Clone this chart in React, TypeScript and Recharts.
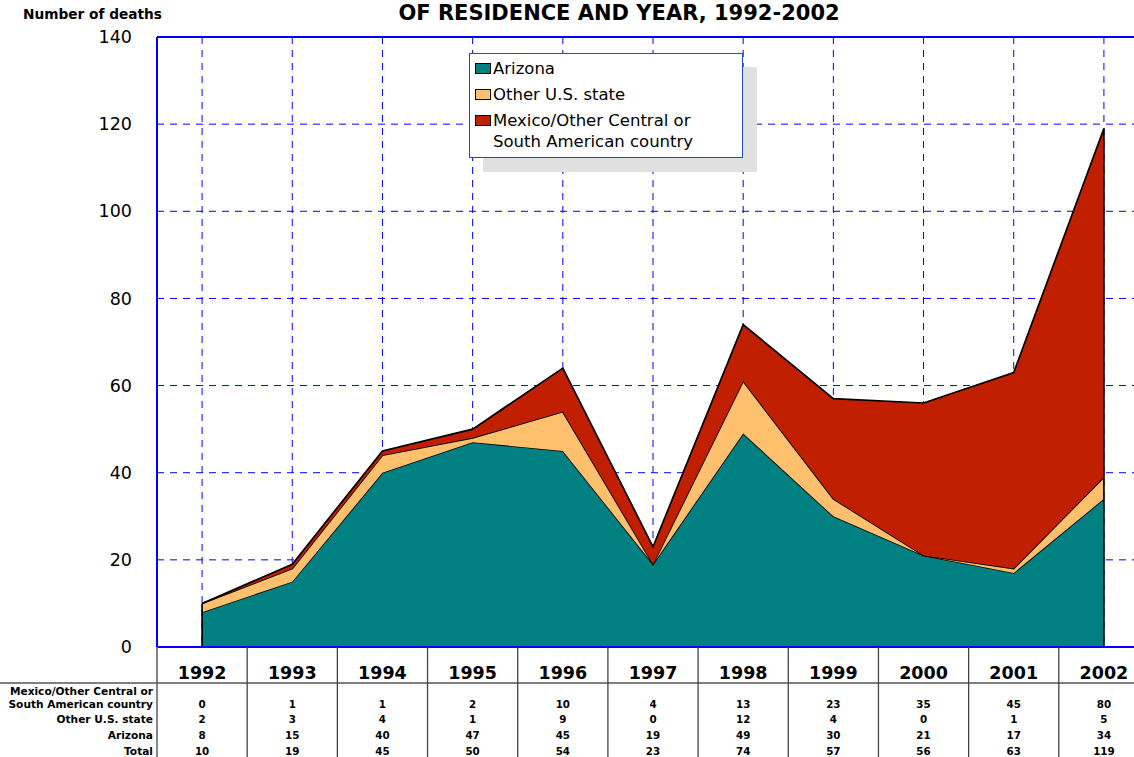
import {
  ComposedChart,
  Area,
  XAxis,
  YAxis,
  CartesianGrid,
  Legend,
  ReferenceLine,
} from "recharts";

const years = ["1992", "1993", "1994", "1995", "1996", "1997", "1998", "1999", "2000", "2001", "2002"];
const arizona = [8, 15, 40, 47, 45, 19, 49, 30, 21, 17, 34];
const otherState = [2, 3, 4, 1, 9, 0, 12, 4, 0, 1, 5];
const mexico = [0, 1, 1, 2, 10, 4, 13, 23, 35, 45, 80];
const totals = [10, 19, 45, 50, 54, 23, 74, 57, 56, 63, 119];
const yTicks = [0, 20, 40, 60, 80, 100, 120, 140];

const seriesNames = [
  "Arizona",
  "Other U.S. state",
  "Mexico/Other Central or\nSouth American country",
];
const seriesColors = ["#008080", "#ffc06e", "#c02000"];

const data = years.map((year, i) => ({
  year,
  arizona: arizona[i],
  otherState: otherState[i],
  mexico: mexico[i],
  stackTop: arizona[i] + otherState[i] + mexico[i],
}));

const W = 1160;
const H = 757;
const LEFT = 157;
const RIGHT = 11;
const BAND = (W - LEFT - RIGHT) / years.length;
const FONT = "'DejaVu Sans', Verdana, sans-serif";

// table rows under the axis, top to bottom
const tableRows = [
  { label: seriesNames[2], values: mexico },
  { label: seriesNames[1], values: otherState },
  { label: seriesNames[0], values: arizona },
  { label: "Total", values: totals },
];

function TableTick(props: any) {
  const { x, y, payload, index } = props;
  const half = BAND / 2;
  const rowY = [704, 719, 735, 751].map((v) => v - 647 + y);
  return (
    <g>
      <line x1={x - half} x2={x - half} y1={y} y2={H} stroke="#444" strokeWidth={1.3} />
      {index === years.length - 1 && (
        <line x1={x + half} x2={x + half} y1={y} y2={H} stroke="#444" strokeWidth={1.3} />
      )}
      <text
        x={x}
        y={y + 32}
        textAnchor="middle"
        fontFamily={FONT}
        fontWeight="bold"
        fontSize={17.5}
        fill="#000"
      >
        {payload.value}
      </text>
      {tableRows.map((row, r) => (
        <text
          key={r}
          x={x}
          y={rowY[r] + 4}
          textAnchor="middle"
          fontFamily={FONT}
          fontWeight="bold"
          fontSize={10.3}
          fill="#000"
        >
          {row.values[index]}
        </text>
      ))}
      {index === 0 && (
        <g>
          <line x1={0} x2={W} y1={y + 36} y2={y + 36} stroke="#555" strokeWidth={1.3} />
          {tableRows.map((row, r) => {
            const lines = row.label.split("\n");
            return lines.map((ln, k) => (
              <text
                key={r + "-" + k}
                x={x - half - 4}
                y={rowY[r] + 4 - (lines.length - 1 - k) * 13}
                textAnchor="end"
                fontFamily={FONT}
                fontWeight="bold"
                fontSize={10.6}
                fill="#000"
              >
                {ln}
              </text>
            ));
          })}
        </g>
      )}
    </g>
  );
}

function LegendBox(props: any) {
  const items = [...(props.payload || [])].sort(
    (a: any, b: any) => seriesNames.indexOf(a.value) - seriesNames.indexOf(b.value)
  );
  return (
    <div
      style={{
        background: "#fff",
        border: "1.5px solid #1f4fbf",
        boxShadow: "14px 14px 0 #e0e0e0",
        padding: "4px 6px 0 5px",
        fontFamily: FONT,
        fontSize: 16.5,
        color: "#000",
        textAlign: "left",
      }}
    >
      {items.map((entry: any, i: number) => {
        const idx = seriesNames.indexOf(entry.value);
        return (
          <div
            key={i}
            style={{ display: "flex", alignItems: "flex-start", marginBottom: 5, lineHeight: "21px" }}
          >
            <span
              style={{
                display: "inline-block",
                width: 16,
                height: 11,
                marginTop: 5,
                marginRight: 2,
                background: seriesColors[idx],
                border: "1.5px solid #000",
                boxSizing: "border-box",
                flexShrink: 0,
              }}
            />
            <span style={{ whiteSpace: "pre-line" }}>{entry.value}</span>
          </div>
        );
      })}
    </div>
  );
}

export default function App() {
  return (
    <div
      style={{
        position: "absolute",
        left: 0,
        top: 0,
        width: 1134,
        height: 757,
        overflow: "hidden",
        background: "#fff",
        fontFamily: FONT,
      }}
    >
      <div
        style={{
          position: "absolute",
          left: 23,
          top: 6,
          fontSize: 13.7,
          fontWeight: "bold",
          whiteSpace: "nowrap",
        }}
      >
        Number of deaths
      </div>
      <div
        style={{
          position: "absolute",
          left: 0,
          width: 1238,
          top: 1,
          textAlign: "center",
          fontSize: 21,
          fontWeight: "bold",
          whiteSpace: "nowrap",
        }}
      >
        OF RESIDENCE AND YEAR, 1992-2002
      </div>
      <ComposedChart
        width={W}
        height={H}
        data={data}
        margin={{ top: 37, right: RIGHT, bottom: 0, left: LEFT - 60 }}
      >
        <CartesianGrid stroke="#0000ff" strokeDasharray="7 6" strokeWidth={1} />
        <XAxis
          dataKey="year"
          height={110}
          padding={{ left: BAND / 2, right: BAND / 2 }}
          axisLine={{ stroke: "#0000ff", strokeWidth: 2 }}
          tickLine={false}
          tickSize={0}
          tickMargin={0}
          interval={0}
          tick={(p: any) => <TableTick {...p} />}
        />
        <YAxis
          width={60}
          domain={[0, 140]}
          ticks={yTicks}
          axisLine={{ stroke: "#0000ff", strokeWidth: 2 }}
          tickLine={false}
          tickSize={0}
          tickMargin={25}
          tick={{ fill: "#000", fontSize: 17.5, fontFamily: FONT }}
        />
        <ReferenceLine y={140} stroke="#0000ff" strokeWidth={2} />
        <Area
          type="linear"
          dataKey="arizona"
          name={seriesNames[0]}
          stackId="a"
          fill={seriesColors[0]}
          fillOpacity={1}
          stroke="#000"
          strokeWidth={1.7}
          isAnimationActive={false}
        />
        <Area
          type="linear"
          dataKey="otherState"
          name={seriesNames[1]}
          stackId="a"
          fill={seriesColors[1]}
          fillOpacity={1}
          stroke="#000"
          strokeWidth={1.7}
          isAnimationActive={false}
        />
        <Area
          type="linear"
          dataKey="mexico"
          name={seriesNames[2]}
          stackId="a"
          fill={seriesColors[2]}
          fillOpacity={1}
          stroke="#000"
          strokeWidth={1.7}
          isAnimationActive={false}
        />
        <ReferenceLine
          segment={[
            { x: years[0], y: 0 },
            { x: years[0], y: data[0].stackTop },
          ]}
          stroke="#000"
          strokeWidth={1.7}
        />
        <ReferenceLine
          segment={[
            { x: years[years.length - 1], y: 0 },
            { x: years[years.length - 1], y: data[data.length - 1].stackTop },
          ]}
          stroke="#000"
          strokeWidth={1.7}
        />
        <Legend
          layout="horizontal"
          align="center"
          verticalAlign="middle"
          content={<LegendBox />}
          wrapperStyle={{ position: "absolute", left: 469, top: 53, width: 274, bottom: "auto" }}
        />
      </ComposedChart>
    </div>
  );
}
